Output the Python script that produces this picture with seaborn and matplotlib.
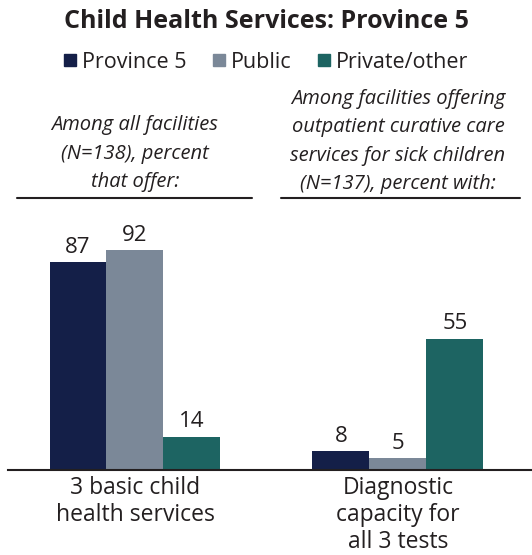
import matplotlib
matplotlib.use("Agg")
import matplotlib.pyplot as plt
from matplotlib.lines import Line2D
import seaborn as sns
import pandas as pd

# chart values
indicators = ["3 basic child\nhealth services", "Diagnostic\ncapacity for\nall 3 tests"]
groups = ["Province 5", "Public", "Private/other"]
province5 = [87, 8]
public = [92, 5]
private_other = [14, 55]
colors = ["#141f48", "#7b8898", "#1d6462"]

headers = ["Among all facilities\n(N=138), percent\nthat offer:",
           "Among facilities offering\noutpatient curative care\nservices for sick children\n(N=137), percent with:"]

rows = []
for g, vals in zip(groups, [province5, public, private_other]):
    for ind, v in zip(indicators, vals):
        rows.append({"indicator": ind, "group": g, "value": v})
df = pd.DataFrame(rows)

sns.set_style("white")
plt.rcParams["font.family"] = ["Open Sans", "DejaVu Sans"]

fig = plt.figure(figsize=(5.32, 5.55), dpi=100)
ax = fig.add_axes([0.015, 85 / 555, 0.985, 239 / 555])

sns.barplot(data=df, x="indicator", y="value", hue="group", order=indicators,
            hue_order=groups, palette=colors, width=0.65, saturation=1,
            gap=0, ax=ax, legend=False, linewidth=0)

for cont in ax.containers:
    ax.bar_label(cont, fmt="%d", padding=3, fontsize=16, color="#231f20")

ax.set_ylim(0, 100)
ax.set_xlim(-0.483, 1.51)
ax.set_xlabel("")
ax.set_ylabel("")
ax.set_yticks([])
for s in ["top", "left", "right"]:
    ax.spines[s].set_visible(False)
ax.spines["bottom"].set_color("#231f20")
ax.spines["bottom"].set_linewidth(1.5)
ax.tick_params(axis="x", length=0, pad=4, labelsize=16.5, labelcolor="#231f20")
for lbl in ax.get_xticklabels():
    lbl.set_linespacing(1.17)
    lbl.set_verticalalignment("top")

# headers over each group
fig.text(135 / 532, 1 - 153.5 / 555, headers[0], ha="center", va="center",
         fontsize=14.5, style="italic", color="#231f20", linespacing=1.55)
fig.text(398 / 532, 1 - 141.5 / 555, headers[1], ha="center", va="center",
         fontsize=14.5, style="italic", color="#231f20", linespacing=1.55)
fig.add_artist(Line2D([17 / 532, 252 / 532], [1 - 198 / 555] * 2, color="#231f20", lw=1.5))
fig.add_artist(Line2D([281 / 532, 520 / 532], [1 - 198 / 555] * 2, color="#231f20", lw=1.5))

fig.text(0.5, 1 - 22 / 555, "Child Health Services: Province 5", ha="center", va="center",
         fontsize=18, fontweight="bold", color="#231f20")

handles = [Line2D([], [], marker="s", linestyle="", markersize=8, color=c) for c in colors]
fig.legend(handles, groups, loc="center", bbox_to_anchor=(0.5, 1 - 62 / 555), ncol=3,
           frameon=False, fontsize=15.5, handlelength=0.6, handletextpad=0.25,
           columnspacing=1.2, labelcolor="#231f20")

fig.savefig("out.png", dpi=100)
